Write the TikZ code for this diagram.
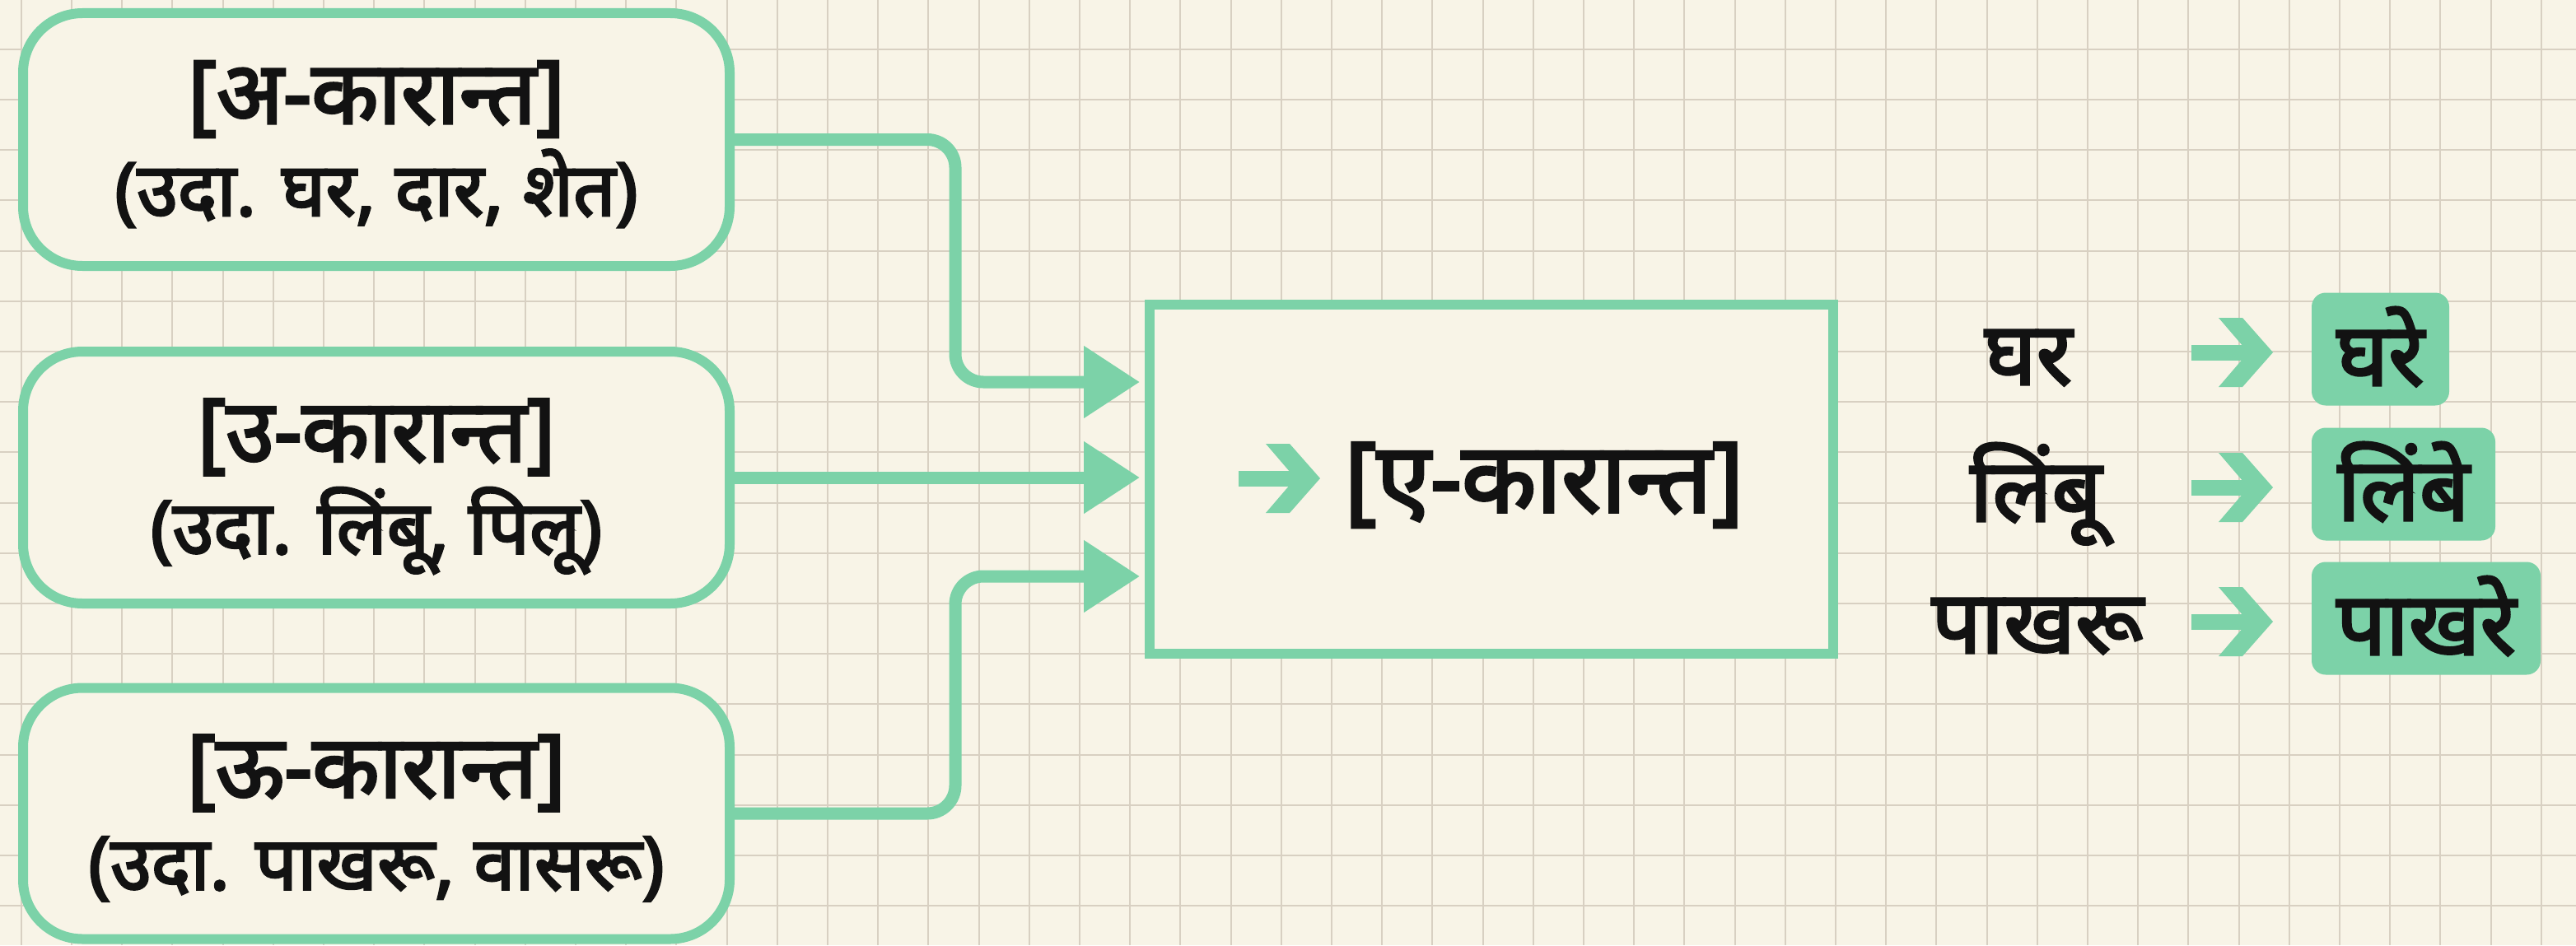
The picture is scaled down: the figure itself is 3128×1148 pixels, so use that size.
\documentclass[tikz,border=0pt]{standalone}
\usepackage{fontspec}
\newfontfamily\deva[Script=Devanagari,FakeBold=3]{Noto Sans}
\usetikzlibrary{arrows.meta}
\definecolor{paper}{RGB}{248,244,231}
\definecolor{gridc}{RGB}{216,208,194}
\definecolor{mint}{RGB}{124,210,168}
\definecolor{ink}{RGB}{18,18,18}
\tikzset{
  srcbox/.style={draw=mint, line width=12pt, fill=paper, rounded corners=72pt, minimum width=858pt, inner sep=0pt},
  bigtxt/.style={font=\deva\fontsize{106}{120}\selectfont, text=ink, inner sep=0pt, anchor=base},
  smalltxt/.style={font=\deva\fontsize{90}{100}\selectfont, text=ink, inner sep=0pt, anchor=base},
  conn/.style={draw=mint, line width=15pt, rounded corners=34pt, -{Triangle[length=68pt,width=84pt]}, shorten >=6pt},
  hlbox/.style={fill=mint, rounded corners=17pt, text height=112.5pt, text depth=24.5pt, inner sep=0pt, anchor=base, font=\deva\fontsize{106}{120}\selectfont, text=ink},
  gridline/.style={draw=gridc, line width=2pt},
  chev/.pic={
    \fill[mint] (-49,-9.5) rectangle (28,9.5);
    \fill[mint] (-16,-42) -- (13,-42) -- (50,0) -- (13,42) -- (-16,42) -- (20,0) -- cycle;
  }
}
\begin{document}
\begin{tikzpicture}[x=1pt,y=-1pt]
\fill[paper] (0,0) rectangle (3128,1148);
\useasboundingbox (0,0) rectangle (3128,1148);
\foreach \i in {0,...,51} \draw[gridline] ({25.7+61.2*\i},0) -- ({25.7+61.2*\i},1148);
\foreach \j in {0,...,19} \draw[gridline] (0,{-1.4+61.2*\j}) -- (3128,{-1.4+61.2*\j});

% source boxes
\node[srcbox, minimum height=307pt] (a) at (457,169.5) {};
\node[bigtxt] (at) at (457,150) {[अ-कारान्त]};
\node[smalltxt] (as) at (457,262) {(उदा. घर, दार, शेत)};
\node[srcbox, minimum height=306pt] (b) at (457,580) {};
\node[bigtxt] (bt) at (457,560.5) {[उ-कारान्त]};
\node[smalltxt] (bs) at (457,672.5) {(उदा. लिंबू, पिलू)};
\node[srcbox, minimum height=305pt] (c) at (457,988) {};
\node[bigtxt] (ct) at (457,968.5) {[ऊ-कारान्त]};
\node[smalltxt] (cs) at (457,1080.5) {(उदा. पाखरू, वासरू)};

% target box
\node[draw=mint, line width=12pt, fill=paper, minimum width=830pt, minimum height=424pt] (e) at (1811,582) {};
\pic (ea) at (1553,581) {chev};
\node[bigtxt, font=\deva\fontsize{118}{124}\selectfont] (et) at (1875,622) {[ए-कारान्त]};

% connectors
\draw[conn] (a.east) -- ++(268,0) |- ([yshift=118pt]e.west);
\draw[conn] (b.east) -- (e.west |- b.east);
\draw[conn] (c.east) -- ++(268,0) |- ([yshift=-118pt]e.west);

% examples
\node[bigtxt] (w1) at (2463,467) {घर};
\node[bigtxt] (w2) at (2472,633) {लिंबू};
\node[bigtxt] (w3) at (2474,793) {पाखरू};
\pic (r1) at (2710,428) {chev};
\pic (r2) at (2710,592) {chev};
\pic (r3) at (2710,755) {chev};
\node[hlbox, minimum width=167pt] (h1) at (2890.5,468) {घरे};
\node[hlbox, minimum width=223pt] (h2) at (2918.5,632) {लिंबे};
\node[hlbox, minimum width=278pt] (h3) at (2946,795) {पाखरे};
\end{tikzpicture}
\end{document}
